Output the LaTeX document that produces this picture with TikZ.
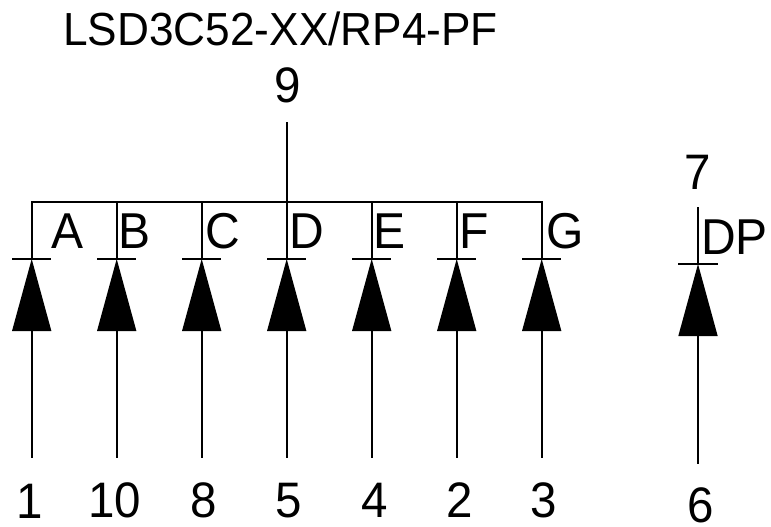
\documentclass[tikz,border=0pt]{standalone}
\usepackage{fontspec}
\setmainfont{Liberation Sans}
\newcommand{\tall}[1]{\scalebox{1}[1.05]{#1}}
\tikzset{
  wire/.style={line width=1.8pt,black},
  thin wire/.style={line width=1.5pt,black},
  lbl/.style={inner sep=0pt,font=\fontsize{48}{48}\selectfont,anchor=base},
  pinlbl/.style={inner sep=0pt,font=\fontsize{47.5}{48}\selectfont,anchor=base},
  ttl/.style={inner sep=0pt,font=\fontsize{44.2}{44.2}\selectfont,anchor=base west},
}
\newcommand{\diode}[5]{% name, x, top, bar y, bottom
  \coordinate (#1top) at (#2,#3);
  \coordinate (#1bar) at (#2,#4);
  \coordinate (#1base) at (#2,#4+72);
  \coordinate (#1bot) at (#2,#5);
  \coordinate (#1l) at (#2-19.7,#4);
  \coordinate (#1r) at (#2+19.7,#4);
  \coordinate (#1bl) at (#2-19.7,#4+72);
  \coordinate (#1br) at (#2+19.7,#4+72);
  \draw[wire] (#1top) -- (#1bar);
  \draw[wire] (#1base) -- (#1bot);
  \draw[thin wire] (#1l) -- (#1r);
  \fill[black] (#1bar) -- (#1br) -- (#1bl) -- cycle;
}
\begin{document}
\begin{tikzpicture}[x=1pt,y=-1pt]
\useasboundingbox (0,0) rectangle (771,527);
\diode{a}{31.7}{202}{259}{458.3}
\diode{b}{116.7}{202}{259}{458.3}
\diode{c}{201.7}{202}{259}{458.3}
\diode{d}{286.7}{202}{259}{458.3}
\diode{e}{371.7}{202}{259}{458.3}
\diode{f}{456.7}{202}{259}{458.3}
\diode{g}{541.7}{202}{259}{458.3}
\diode{p}{698}{207}{264}{464}
\coordinate (nine) at (286.7,122);
\draw[wire,line cap=rect] (atop) -- (gtop);
\draw[wire] (nine) -- (dtop);
\node[ttl] (title) at (63,45.5) {\tall{LSD3C52-XX/RP4-PF}};
\node[pinlbl] (n9) at (287.5,102.5) {\tall{9}};
\node[pinlbl] (n7) at (698,189) {\tall{7}};
\node[lbl] (la) at (67.5,248.5) {\tall{A}};
\node[lbl] (lb) at (135,248.5) {\tall{B}};
\node[lbl] (lc) at (222.5,248.5) {\tall{C}};
\node[lbl] (ld) at (307,248.5) {\tall{D}};
\node[lbl] (le) at (390,248.5) {\tall{E}};
\node[lbl] (lf) at (474,248.5) {\tall{F}};
\node[lbl] (lg) at (565,248.5) {\tall{G}};
\node[lbl] (ldp) at (734.5,254.5) {\tall{DP}};
\node[pinlbl] (p1) at (29.5,518) {\tall{1}};
\node[pinlbl] (p10) at (115,517) {\tall{10}};
\node[pinlbl] (p8) at (204,517) {\tall{8}};
\node[pinlbl] (p5) at (289,517) {\tall{5}};
\node[pinlbl] (p4) at (375,517) {\tall{4}};
\node[pinlbl] (p2) at (459.5,517) {\tall{2}};
\node[pinlbl] (p3) at (544,517) {\tall{3}};
\node[pinlbl] (p6) at (700.5,522) {\tall{6}};
\end{tikzpicture}
\end{document}
